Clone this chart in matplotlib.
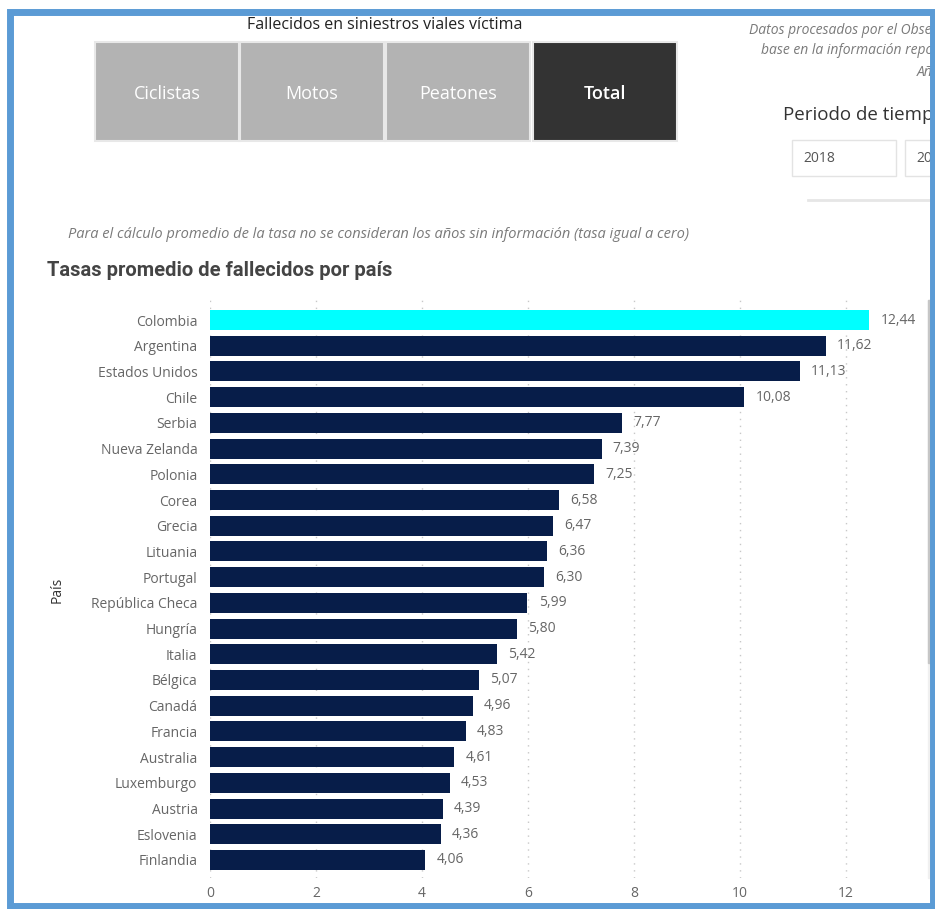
import matplotlib.pyplot as plt
from matplotlib.patches import Rectangle

paises = ["Colombia", "Argentina", "Estados Unidos", "Chile", "Serbia",
          "Nueva Zelanda", "Polonia", "Corea", "Grecia", "Lituania",
          "Portugal", "República Checa", "Hungría", "Italia", "Bélgica",
          "Canadá", "Francia", "Australia", "Luxemburgo", "Austria",
          "Eslovenia", "Finlandia"]
tasas = [12.44, 11.62, 11.13, 10.08, 7.77, 7.39, 7.25, 6.58, 6.47, 6.36,
         6.30, 5.99, 5.80, 5.42, 5.07, 4.96, 4.83, 4.61, 4.53, 4.39,
         4.36, 4.06]
botones = ["Ciclistas", "Motos", "Peatones", "Total"]
ticks = [0, 2, 4, 6, 8, 10, 12]
anios = ["2018", "2023"]

plt.rcParams['font.family'] = ['Open Sans', 'DejaVu Sans']

W, H = 935, 909
fig = plt.figure(figsize=(W / 100, H / 100), dpi=100)

# capa de fondo en pixeles (recorta el texto en el borde derecho)
bg = fig.add_axes([0, 0, 932 / W, 1])
bg.set_xlim(0, 932)
bg.set_ylim(H, 0)
bg.axis('off')

bg.text(385, 25, "Fallecidos en siniestros viales víctima", ha='center',
        va='center', fontsize=11.5, color='#222222')

bx = [95, 240, 386, 533]
for i, b in enumerate(botones):
    activo = b == "Total"
    bg.add_patch(Rectangle((bx[i], 42), 144, 99, lw=1.5, edgecolor='#e8e8e8',
                           facecolor='#333333' if activo else '#b3b3b3'))
    bg.text(bx[i] + 72, 94, b, ha='center', va='center', fontsize=13,
            color='white', fontweight='semibold' if activo else 'normal')

nota_kw = dict(color='#7a7a7a', fontstyle='italic', va='center', clip_on=True)
bg.text(749, 31, "Datos procesados por el Observatorio", fontsize=10, **nota_kw)
bg.text(761, 50, "base en la información reportada", fontsize=10, **nota_kw)
bg.text(917, 72, "Año", fontsize=10, **nota_kw)

bg.text(783, 115, "Periodo de tiempo", fontsize=13.5, color='#333333',
        va='center', clip_on=True)
for x0, a in zip([792, 905], anios):
    bg.add_patch(Rectangle((x0, 140), 104, 36, facecolor='white',
                           edgecolor='#e3e3e3', lw=1, clip_on=True))
    bg.text(x0 + 11, 158, a, fontsize=10, color='#555555', va='center',
            clip_on=True)
bg.plot([808, 932], [200, 200], color='#e6e6e6', lw=2)

bg.text(68, 234, "Para el cálculo promedio de la tasa no se consideran los años "
        "sin información (tasa igual a cero)", fontsize=10.5, **nota_kw)

bg.text(47, 271, "Tasas promedio de fallecidos por país", fontsize=14.5,
        color='#444444', va='center', fontweight='semibold',
        family=['Roboto', 'DejaVu Sans'])
bg.text(57, 590, "País", rotation=90, ha='center', va='center', fontsize=10,
        color='#333333')

# barra de desplazamiento
bg.add_patch(Rectangle((928, 300), 5, 578, color='#f0f0f0'))
bg.add_patch(Rectangle((928, 300), 5, 363, color='#c6c6c6'))

# grafico de barras
ax = fig.add_axes([210 / W, 1 - 878 / H, (925 - 210) / W, (878 - 300) / H])
colores = ['#00FFFF' if p == "Colombia" else '#071D49' for p in paises]
pos = list(range(len(paises)))
barras = ax.barh(pos, tasas, height=0.78, color=colores)
ax.bar_label(barras, labels=[f"{v:.2f}".replace('.', ',') for v in tasas],
             padding=8, fontsize=10, color='#666666')
ax.set_yticks(pos)
ax.set_yticklabels(paises, fontsize=10, color='#666666')
ax.set_xticks(ticks)
ax.set_xticklabels([str(t) for t in ticks], fontsize=10, color='#666666')
ax.set_xlim(0, (925 - 210) / 53)
ax.set_ylim(21 + 18 / 25.7, -20 / 25.7)
ax.tick_params(axis='y', length=0, pad=9)
ax.tick_params(axis='x', length=0, pad=6)
for s in ax.spines.values():
    s.set_visible(False)
ax.xaxis.grid(True, linestyle=(0, (1, 4)), color='#c8c8c8', lw=1)
ax.set_axisbelow(True)
ax.patch.set_alpha(0)

# marco azul
fig.patches.append(Rectangle((10 / W, 1 - 906 / H), 923 / W, 894.5 / H,
                             transform=fig.transFigure, fill=False,
                             edgecolor='#5b9bd5', lw=5, zorder=10))

fig.savefig("out.png", dpi=100)
